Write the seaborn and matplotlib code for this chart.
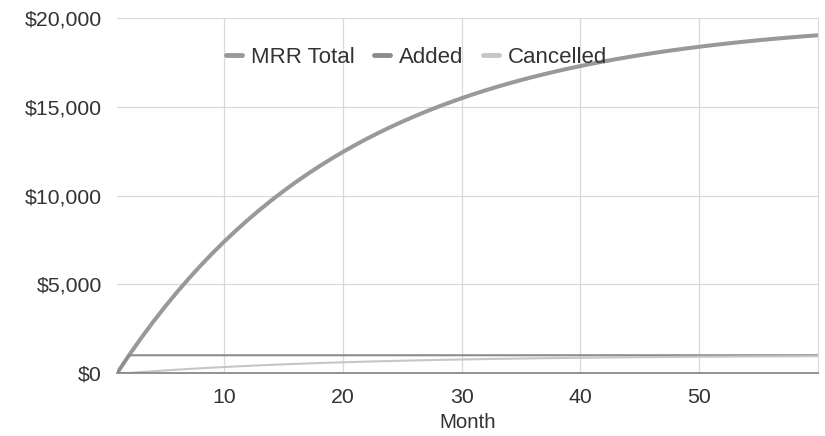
import matplotlib
matplotlib.use('Agg')
import matplotlib.pyplot as plt
from matplotlib.ticker import FuncFormatter
import pandas as pd
import seaborn as sns

# values, month 1..60
months = list(range(1, 61))
mrr_total = [0, 1000, 1950, 2853, 3710, 4524, 5298, 6033, 6732, 7395,
             8025, 8624, 9193, 9733, 10246, 10734, 11197, 11638, 12056, 12453,
             12830, 13189, 13529, 13853, 14160, 14452, 14730, 14993, 15243, 15481,
             15707, 15922, 16126, 16320, 16503, 16678, 16844, 17002, 17152, 17295,
             17430, 17558, 17680, 17796, 17907, 18011, 18111, 18205, 18295, 18380,
             18461, 18538, 18611, 18681, 18747, 18809, 18869, 18925, 18979, 19029]
added = [0] + [1000] * 59
cancelled = [0, 0, 50, 98, 143, 186, 226, 265, 302, 337,
             370, 401, 431, 460, 487, 512, 537, 560, 582, 603,
             623, 642, 659, 676, 693, 708, 723, 737, 750, 762,
             774, 785, 796, 806, 816, 825, 834, 842, 850, 858,
             865, 872, 878, 884, 890, 895, 901, 906, 910, 915,
             919, 923, 927, 931, 934, 937, 940, 943, 946, 949]

df = pd.DataFrame({'Month': months, 'MRR Total': mrr_total,
                   'Added': added, 'Cancelled': cancelled})

sns.set_style('white')
plt.rcParams['font.family'] = ['Liberation Sans', 'DejaVu Sans']

fig = plt.figure(figsize=(8.25, 4.36), dpi=100)
ax = fig.add_axes([0.142, 0.1445, 0.8495, 0.8142])

sns.lineplot(data=df, x='Month', y='MRR Total', ax=ax, color='#999999',
             linewidth=2.9, label='MRR Total')
sns.lineplot(data=df, x='Month', y='Added', ax=ax, color='#8c8c8c',
             linewidth=1.5, label='Added')
sns.lineplot(data=df, x='Month', y='Cancelled', ax=ax, color='#c6c6c6',
             linewidth=1.5, label='Cancelled')

ax.set_xlim(1, 60)
ax.set_ylim(0, 20000)
ax.set_xticks([10, 20, 30, 40, 50])
ax.set_yticks([0, 5000, 10000, 15000, 20000])
ax.yaxis.set_major_formatter(FuncFormatter(lambda v, p: '${:,.0f}'.format(v)))
ax.grid(True, color='#d9d9d9', linewidth=0.9)
ax.set_axisbelow(True)
ax.tick_params(length=0, labelsize=15.3, labelcolor='#333333')
ax.tick_params(axis='x', pad=11)
ax.tick_params(axis='y', pad=11)
ax.set_xlabel('Month', fontsize=14.8, color='#333333', labelpad=4)
ax.set_ylabel('')

for s in ['top', 'left']:
    ax.spines[s].set_visible(False)
ax.spines['right'].set_color('#d9d9d9')
ax.spines['bottom'].set_color('#808080')
ax.spines['bottom'].set_linewidth(1.2)

leg = ax.legend(loc='center left', bbox_to_anchor=(226 / 825, 1 - 57 / 436),
                bbox_transform=fig.transFigure, ncol=3, frameon=False,
                fontsize=16, handlelength=0.72, handletextpad=0.39,
                columnspacing=0.9, borderpad=0, borderaxespad=0)
for line in leg.get_lines():
    line.set_linewidth(3.5)
for t in leg.get_texts():
    t.set_color('#333333')

fig.savefig('out.png', dpi=100)
